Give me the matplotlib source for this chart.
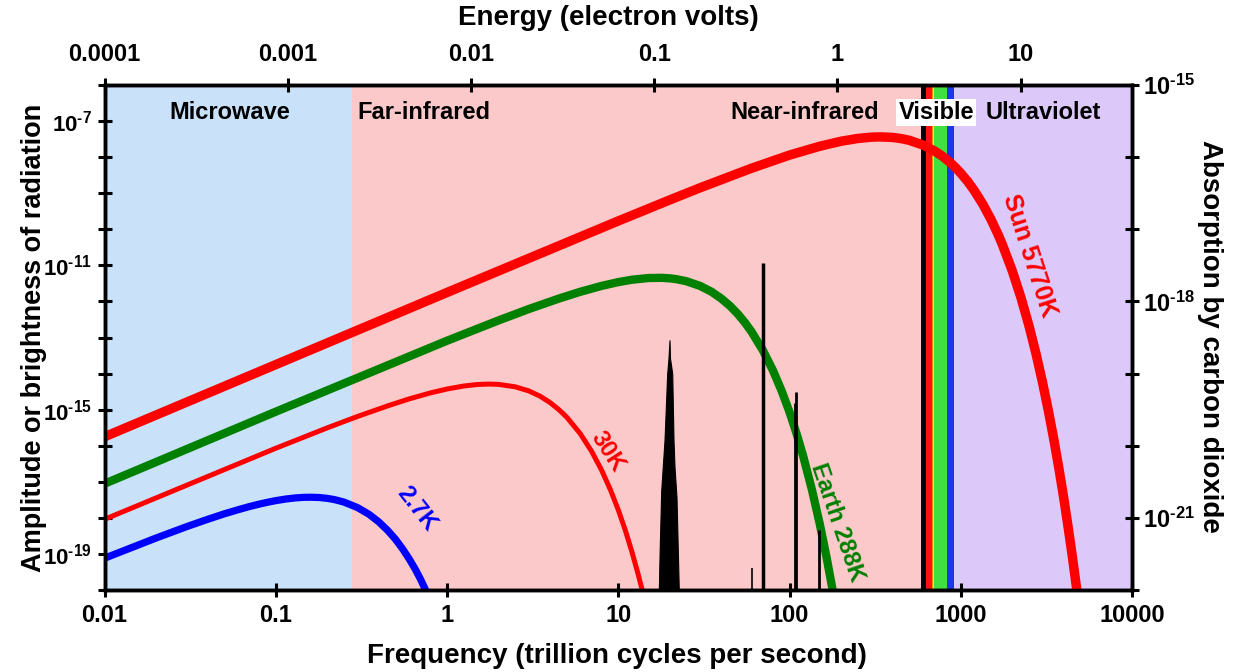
import matplotlib.pyplot as plt

plt.rcParams['font.family'] = ['Liberation Sans', 'DejaVu Sans']
plt.rcParams['font.weight'] = 'bold'
plt.rcParams['axes.labelweight'] = 'bold'
plt.rcParams['mathtext.fontset'] = 'custom'
plt.rcParams['mathtext.rm'] = 'Liberation Sans:bold'
plt.rcParams['mathtext.bf'] = 'Liberation Sans:bold'

# frequency in trillion cycles per second (THz), brightness
sun_freq = [0.01, 0.1, 1, 10, 20, 30, 60, 100, 150, 200, 250, 300, 340, 400, 450,
            500, 600, 700, 775, 850, 925, 1000, 1100, 1200, 1350, 1500, 1650, 1750,
            2000, 2250, 2500, 2750, 3000, 3250, 3500, 3750, 4000, 4250, 4500, 4750, 5000]
sun_amp = [1.77e-16, 1.77e-14, 1.77e-12, 1.70e-10, 6.52e-10, 1.41e-9, 4.92e-9, 1.14e-8,
           2.0e-8, 2.76e-8, 3.29e-8, 3.58e-8, 3.64e-8, 3.52e-8, 3.26e-8,
           2.93e-8, 2.18e-8, 1.50e-8, 1.09e-8, 7.7e-9, 5.32e-9, 3.6e-9, 2.09e-9,
           1.18e-9, 4.82e-10, 1.9e-10, 7.27e-11, 3.77e-11,
           7.0e-12, 1.25e-12, 2.15e-13, 3.58e-14, 5.8e-15, 9.2e-16, 1.44e-16, 2.22e-17,
           3.4e-18, 5.0e-19, 7.5e-20, 1.1e-20, 1.6e-21]

earth_freq = [0.01, 0.1, 1, 2, 3, 4.5, 6, 8, 10, 12, 15, 18, 20, 22, 25, 30, 35,
              40, 45, 50, 55, 60, 70, 80, 90, 100, 110, 120, 135, 150, 165, 180]
earth_amp = [8.84e-18, 8.77e-16, 8.13e-14, 2.98e-13, 6.14e-13, 1.20e-12, 1.85e-12,
             2.70e-12, 3.43e-12, 3.99e-12, 4.45e-12, 4.51e-12, 4.37e-12, 4.12e-12,
             3.63e-12, 2.70e-12, 1.86e-12, 1.20e-12, 7.45e-13, 4.44e-13, 2.57e-13,
             1.45e-13, 4.35e-14, 1.23e-14, 3.3e-15, 8.6e-16, 2.15e-16, 5.3e-17,
             6.2e-18, 7.0e-19, 7.6e-20, 8.1e-21]

k30_freq = [0.01, 0.1, 0.2, 0.3, 0.45, 0.6, 0.8, 1, 1.25, 1.5, 1.75, 2, 2.5, 3,
            3.5, 4, 4.5, 5, 6, 7, 8, 9, 10, 11, 12, 13, 14]
k30_amp = [9.1e-19, 8.5e-17, 3.13e-16, 6.46e-16, 1.27e-15, 1.98e-15, 2.91e-15,
           3.73e-15, 4.51e-15, 4.97e-15, 5.12e-15, 5.02e-15, 4.30e-15, 3.31e-15,
           2.35e-15, 1.57e-15, 1.0e-15, 6.2e-16, 2.16e-16, 6.9e-17, 2.09e-17,
           6.0e-18, 1.67e-18, 4.5e-19, 1.17e-19, 3.0e-20, 7.6e-21]

cmb_freq = [0.01, 0.02, 0.03, 0.04, 0.05, 0.06, 0.07, 0.08, 0.09, 0.1, 0.115,
            0.13, 0.145, 0.16, 0.18, 0.2, 0.22, 0.25, 0.3, 0.35, 0.4, 0.45, 0.5,
            0.55, 0.6, 0.65, 0.7, 0.75, 0.8]
cmb_amp = [7.6e-20, 2.76e-19, 5.65e-19, 9.1e-19, 1.29e-18, 1.67e-18, 2.05e-18,
           2.40e-18, 2.72e-18, 3.0e-18, 3.34e-18, 3.57e-18, 3.70e-18, 3.73e-18,
           3.66e-18, 3.47e-18, 3.21e-18, 2.74e-18, 1.93e-18, 1.26e-18, 7.7e-19,
           4.5e-19, 2.55e-19, 1.39e-19, 7.4e-20, 3.9e-20, 2.0e-20, 1.0e-20, 5.0e-21]

# carbon dioxide absorption (right axis)
co2_band_freq = [17.26, 17.42, 17.82, 18.63, 19.31, 19.65, 19.92, 20.05, 20.66,
                 21.02, 21.30, 21.88, 22.57]
co2_band_abs = [1e-22, 2.9e-22, 2.4e-21, 1.2e-20, 1.0e-19, 1.64e-19, 2.9e-19,
                1.64e-19, 1.0e-19, 1.2e-20, 5.1e-21, 1.95e-21, 1e-22]
co2_line_freq = [60.8, 69.8, 107.5, 109.3, 148.0]
co2_line_abs = [2e-22, 3.4e-18, 3.9e-20, 5.6e-20, 6.8e-22]
co2_line_width = [1.2, 2.5, 2.0, 2.0, 2.0]

# spectrum regions (THz)
region_edges = [0.01, 0.28, 586, 916, 10000]
region_colors = ['#c9e2f9', '#fbc9c9', None, '#ddc9f9']
visible_edges = [586, 627, 680, 690, 700, 830, 916]
visible_colors = ['black', '#ff1111', '#ff8c00', '#ffee00', '#3fe03f', '#1f35e8']

energy_ticks = [0.0001, 0.001, 0.01, 0.1, 1, 10]
energy_labels = ['0.0001', '0.001', '0.01', '0.1', '1', '10']
freq_ticks = [0.01, 0.1, 1, 10, 100, 1000, 10000]
freq_labels = ['0.01', '0.1', '1', '10', '100', '1000', '10000']


def power_label(e):
    return r'$\mathbf{10^{‐%d}}$' % (-e)


W, H = 1233, 672
fig = plt.figure(figsize=(W / 100, H / 100), dpi=100)
ax = fig.add_axes([104.5 / W, (H - 590) / H, 1027.5 / W, 505 / H])

for i in range(len(region_colors)):
    if region_colors[i]:
        ax.axvspan(region_edges[i], region_edges[i + 1], color=region_colors[i], lw=0, zorder=0)
for i in range(len(visible_colors)):
    ax.axvspan(visible_edges[i], visible_edges[i + 1], color=visible_colors[i], lw=0, zorder=0)

ax.plot(cmb_freq, cmb_amp, color='#0000ff', lw=5.2, solid_capstyle='butt', zorder=3)
ax.plot(k30_freq, k30_amp, color='#ff0000', lw=3.6, solid_capstyle='butt', zorder=3)
ax.plot(earth_freq, earth_amp, color='#008000', lw=6.0, solid_capstyle='butt', zorder=3)
ax.plot(sun_freq, sun_amp, color='#ff0000', lw=6.8, solid_capstyle='butt', zorder=4)

ax.set_xscale('log')
ax.set_yscale('log')
ax.set_xlim(0.01, 10000)
ax.set_ylim(1e-20, 1e-6)
ax.set_xticks(freq_ticks)
ax.set_xticklabels(freq_labels)
ax.minorticks_off()
left_pows = list(range(-20, -5))
ax.set_yticks([10.0 ** e for e in left_pows])
ax.set_yticklabels([power_label(e) if e in (-7, -11, -15, -19) else '' for e in left_pows])
ax.minorticks_off()

# region labels
trans = ax.get_xaxis_transform()
ax.text(0.054, 0.945, 'Microwave', transform=trans, ha='center', va='center', fontsize=17)
ax.text(0.30, 0.945, 'Far-infrared', transform=trans, ha='left', va='center', fontsize=17)
ax.text(335, 0.945, 'Near-infrared', transform=trans, ha='right', va='center', fontsize=17)
ax.text(720, 0.945, 'Visible', transform=trans, ha='center', va='center', fontsize=17,
        zorder=5, bbox=dict(facecolor='white', edgecolor='none', pad=1.5))
ax.text(1390, 0.945, 'Ultraviolet', transform=trans, ha='left', va='center', fontsize=17)

# curve labels
ax.text(2512, 1.84e-11, 'Sun 5770K', color='#ff0000', rotation=-72, ha='center',
        va='center', fontsize=18, rotation_mode='anchor', zorder=6)
ax.text(190, 7.6e-19, 'Earth 288K', color='#008000', rotation=-71, ha='center',
        va='center', fontsize=17, rotation_mode='anchor', zorder=6)
ax.text(8.66, 6.8e-17, '30K', color='#ff0000', rotation=-57, ha='center',
        va='center', fontsize=17, rotation_mode='anchor', zorder=6)
ax.text(0.666, 1.76e-18, '2.7K', color='#0000ff', rotation=-52, ha='center',
        va='center', fontsize=17, rotation_mode='anchor', zorder=6)

# CO2 absorption on right axis
axr = ax.twinx()
axr.set_yscale('log')
axr.set_ylim(1e-22, 1e-15)
axr.fill_between(co2_band_freq, 1e-23, co2_band_abs, color='black', lw=0.8)
axr.vlines(co2_line_freq, 1e-23, co2_line_abs, colors='black', lw=co2_line_width)
right_pows = list(range(-22, -14))
axr.set_yticks([10.0 ** e for e in right_pows])
axr.set_yticklabels([power_label(e) if e in (-15, -18, -21) else '' for e in right_pows])
axr.minorticks_off()

# energy on top axis
axt = ax.twiny()
axt.set_xscale('log')
axt.set_xlim(1e-4, 40.5)
axt.set_xticks(energy_ticks)
axt.set_xticklabels(energy_labels)
axt.minorticks_off()

for a in (ax, axr, axt):
    for s in a.spines.values():
        s.set_linewidth(2.4)
ax.tick_params(axis='x', direction='inout', length=10, width=2.2, labelsize=17, pad=5)
ax.tick_params(axis='y', direction='inout', length=10, width=2.2, labelsize=16, pad=4)
axr.tick_params(axis='y', direction='inout', length=10, width=2.2, labelsize=17, pad=3)
axt.tick_params(axis='x', direction='inout', length=10, width=2.2, labelsize=17, pad=9)

ax.set_xlabel('Frequency (trillion cycles per second)', fontsize=20)
ax.xaxis.set_label_coords(0.499, -0.13)
ax.xaxis.label.set_va('center')
axt.set_xlabel('Energy (electron volts)', fontsize=20)
axt.xaxis.set_label_coords(0.49, 1.133)
axt.xaxis.label.set_va('center')
ax.set_ylabel('Amplitude or brightness of radiation', fontsize=19.5)
ax.yaxis.set_label_coords(-0.069, 0.5)
ax.yaxis.label.set_va('center')
axr.set_ylabel('Absorption by carbon dioxide', fontsize=20, rotation=-90)
axr.yaxis.set_label_coords(1.076, 0.503)
axr.yaxis.label.set_va('center')

fig.savefig('out.png', dpi=100)
